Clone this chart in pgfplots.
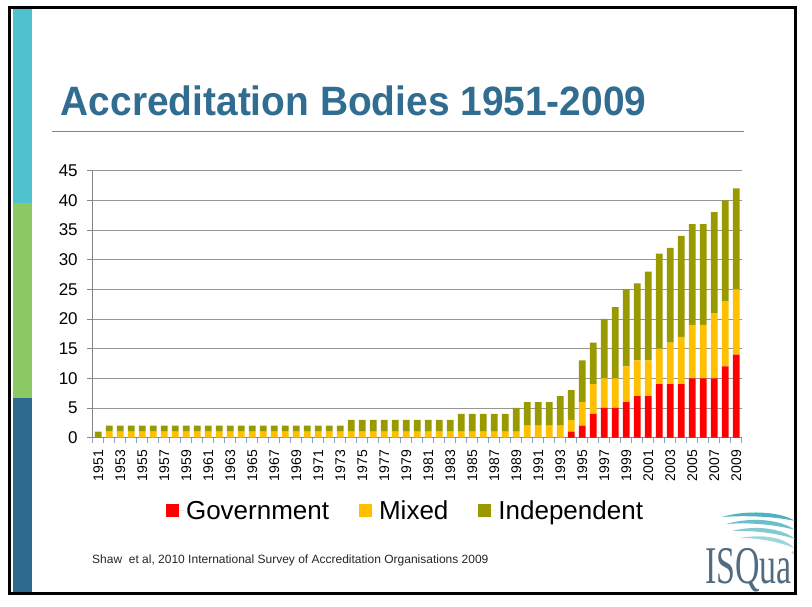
\documentclass[border=0pt]{standalone}
\usepackage{pgfplots}
\pgfplotsset{compat=1.18}
\usepackage{pgfplotstable}
\usepackage{graphicx}
\usepackage{fontspec}
\setmainfont{Liberation Sans}
\newfontfamily\logofont{Liberation Serif}

\definecolor{gov}{RGB}{255,0,0}
\definecolor{mix}{RGB}{255,192,0}
\definecolor{ind}{RGB}{153,153,0}
\definecolor{titleblue}{RGB}{49,109,145}
\definecolor{stripA}{RGB}{78,194,207}
\definecolor{stripB}{RGB}{140,200,100}
\definecolor{stripC}{RGB}{46,106,141}
\definecolor{gridgray}{RGB}{150,150,150}
\definecolor{axisgray}{RGB}{134,134,134}
\definecolor{tickblue}{RGB}{140,165,190}
\definecolor{rulecol}{RGB}{110,140,165}
\definecolor{logoblue}{RGB}{80,108,130}
\definecolor{logoteal}{RGB}{80,180,192}

\pgfplotstableread{
year gov mix ind
1951 0 0 1
1952 0 1 1
1953 0 1 1
1954 0 1 1
1955 0 1 1
1956 0 1 1
1957 0 1 1
1958 0 1 1
1959 0 1 1
1960 0 1 1
1961 0 1 1
1962 0 1 1
1963 0 1 1
1964 0 1 1
1965 0 1 1
1966 0 1 1
1967 0 1 1
1968 0 1 1
1969 0 1 1
1970 0 1 1
1971 0 1 1
1972 0 1 1
1973 0 1 1
1974 0 1 2
1975 0 1 2
1976 0 1 2
1977 0 1 2
1978 0 1 2
1979 0 1 2
1980 0 1 2
1981 0 1 2
1982 0 1 2
1983 0 1 2
1984 0 1 3
1985 0 1 3
1986 0 1 3
1987 0 1 3
1988 0 1 3
1989 0 1 4
1990 0 2 4
1991 0 2 4
1992 0 2 4
1993 0 2 5
1994 1 2 5
1995 2 4 7
1996 4 5 7
1997 5 5 10
1998 5 5 12
1999 6 6 13
2000 7 6 13
2001 7 6 15
2002 9 6 16
2003 9 7 16
2004 9 8 17
2005 10 9 17
2006 10 9 17
2007 10 11 17
2008 12 11 17
2009 14 11 17
}\data

\begin{document}
\begin{tikzpicture}[x=1bp,y=1bp]
\useasboundingbox (0,0) rectangle (812,607);
\fill[white] (0,0) rectangle (812,607);
% left strip
\fill[stripA] (13,598) rectangle (32,404);
\fill[stripB] (13,404) rectangle (32,209);
\fill[stripC] (13,209) rectangle (32,14);
% border
\draw[black, line width=2.5] (9.5,599.5) rectangle (795.5,13.5);
% title
\node[anchor=base west, inner sep=0, text=titleblue] at (60.7,491)
  {\scalebox{0.948}[1]{\fontsize{41bp}{41bp}\selectfont\bfseries Accreditation Bodies 1951-2009}};
\draw[rulecol, line width=1.4] (52,475.3) -- (744,475.3);
% footnote
\node[anchor=base west, inner sep=0, text=black!85] at (92,43)
  {\fontsize{12bp}{14bp}\selectfont Shaw\ \ et al, 2010 International Survey of Accreditation Organisations 2009};
% logo
\node[anchor=base west, inner sep=0, text=logoblue] at (705,23)
  {\scalebox{0.64}[1]{\logofont\fontsize{53bp}{53bp}\selectfont ISQua}};
\node[anchor=base west, inner sep=0, text=logoblue] at (791.5,52) {\logofont\fontsize{4bp}{4bp}\selectfont\textregistered};
\fill[logoteal] (722,90) .. controls (745,97) and (780,96) .. (795,86) .. controls (778,90) and (748,92) .. (722,90) -- cycle;
\fill[logoteal!85] (726,83) .. controls (750,90) and (780,88) .. (795,77) .. controls (778,82) and (750,85) .. (726,83) -- cycle;
\fill[logoteal!70] (732,76) .. controls (755,82) and (782,79) .. (795,68) .. controls (780,73) and (755,77) .. (732,76) -- cycle;
\fill[logoteal!55] (740,69) .. controls (762,73) and (784,70) .. (794,59) .. controls (782,64) and (762,69) .. (740,69) -- cycle;

\begin{axis}[
  at={(92.7bp,169.4bp)}, anchor=south west,
  scale only axis, width=649bp, height=266.9bp,
  ybar stacked, bar width=0.6,
  xmin=1950.5, xmax=2009.5, ymin=0, ymax=45,
  ytick={0,5,...,45},
  xtick={1950.5,1951.5,...,2009.5}, xticklabels={},
  extra x ticks={1951,1953,...,2009},
  extra x tick style={major tick length=0pt, grid=none},
  /pgf/number format/1000 sep={},
  /pgf/number format/assume math mode=true,
  ymajorgrids, grid style={gridgray, line width=0.8},
  axis x line*=bottom, axis y line*=left,
  axis line style={axisgray, line width=0.9, -},
  tick align=outside, major tick length=5.5bp,
  xtick style={tickblue, line width=0.8},
  ytick style={axisgray, line width=0.8},
  yticklabel style={font=\fontsize{17bp}{18bp}\selectfont, text=black, xshift=-6bp},
  xticklabel style={font=\fontsize{14bp}{15bp}\selectfont, text=black, yshift=-9bp, rotate=90, anchor=east},
  legend style={at={(0.482,-0.275)}, anchor=center, draw=none, fill=none,
    font=\fontsize{26bp}{27bp}\selectfont,
    /tikz/every even column/.append style={column sep=28bp}},
  legend columns=-1,
  legend image code/.code={\fill[#1] (0bp,-6.5bp) rectangle (13bp,6.5bp); \path (0bp,0bp) -- (18bp,0bp);},
]
\addplot[fill=gov, draw=none] table[x=year, y=gov] {\data};
\addplot[fill=mix, draw=none] table[x=year, y=mix] {\data};
\addplot[fill=ind, draw=none] table[x=year, y=ind] {\data};
\legend{Government, Mixed, Independent}
\end{axis}
\end{tikzpicture}
\end{document}
